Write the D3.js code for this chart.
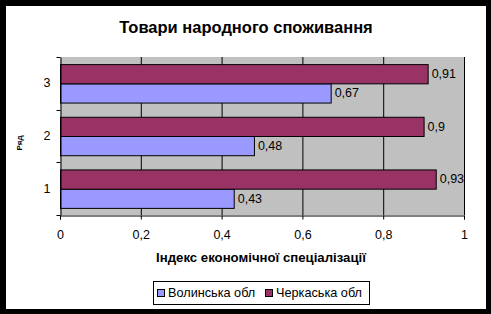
<!DOCTYPE html>
<html>
<head>
<meta charset="utf-8">
<script src="https://cdn.jsdelivr.net/npm/d3@7"></script>
<style>
  body { margin: 0; background: #000; }
  svg { display: block; font-family: "Liberation Sans", Arial, sans-serif; }
</style>
</head>
<body>
<svg id="chart"></svg>
<script>
const categories = ["1", "2", "3"];
const seriesNames = ["Волинська обл", "Черкаська обл"];
const volyn = [0.43, 0.48, 0.67];
const cherkasy = [0.93, 0.9, 0.91];
const xTicks = [0, 0.2, 0.4, 0.6, 0.8, 1];
const xTickLabels = ["0", "0,2", "0,4", "0,6", "0,8", "1"];

const colors = ["#9999FF", "#993366"];
const width = 491, height = 314;
const margin = { top: 57, right: 27, bottom: 99, left: 60 };

const svg = d3.select("#chart").attr("width", width).attr("height", height);

// outer frame
svg.append("rect").attr("x", 0).attr("y", 0).attr("width", width).attr("height", height).attr("fill", "#000");
svg.append("rect").attr("x", 6).attr("y", 6).attr("width", 480).attr("height", 303).attr("fill", "#fff");

const x = d3.scaleLinear().domain([0, 1]).range([margin.left, width - margin.right]);
const y = d3.scaleBand().domain(categories.slice().reverse())
    .range([margin.top, height - margin.bottom]);
const inner = d3.scaleBand().domain([1, 0])
    .range([0, y.bandwidth()]).paddingOuter(0.37).paddingInner(0);

// plot background
svg.append("rect")
    .attr("x", x(0)).attr("y", margin.top)
    .attr("width", x(1) - x(0)).attr("height", height - margin.bottom - margin.top)
    .attr("fill", "#C0C0C0");

// gridlines
svg.append("g").selectAll("line").data(xTicks.slice(1)).join("line")
    .attr("x1", d => x(d) + 0.5).attr("x2", d => x(d) + 0.5)
    .attr("y1", margin.top).attr("y2", height - margin.bottom)
    .attr("stroke", "#000").attr("stroke-width", 1);

const rows = categories.map((c, i) => ({ c, vals: [volyn[i], cherkasy[i]] }));

const groups = svg.append("g").selectAll("g").data(rows).join("g")
    .attr("transform", d => `translate(0,${y(d.c)})`);

groups.selectAll("rect").data(d => d.vals.map((v, s) => ({ v, s }))).join("rect")
    .attr("x", x(0) + 0.5)
    .attr("y", d => inner(d.s) + 0.5)
    .attr("width", d => x(d.v) - x(0))
    .attr("height", inner.bandwidth())
    .attr("fill", d => colors[d.s])
    .attr("stroke", "#000").attr("stroke-width", 1);

groups.selectAll("text").data(d => d.vals.map((v, s) => ({ v, s }))).join("text")
    .attr("x", d => x(d.v) + 4)
    .attr("y", d => inner(d.s) + inner.bandwidth() / 2 + 1)
    .attr("dominant-baseline", "middle")
    .attr("font-size", 12.5)
    .text(d => String(d.v).replace(".", ","));

// axes
const xAxis = svg.append("g")
    .attr("transform", `translate(0,${height - margin.bottom + 0.5})`)
    .call(d3.axisBottom(x).tickValues(xTicks).tickFormat((d, i) => xTickLabels[i]).tickSizeOuter(0).tickSize(4).tickPadding(11));
xAxis.select(".domain").attr("stroke", "#000");
xAxis.selectAll("text").attr("font-size", 12.5).attr("font-family", "Liberation Sans, Arial, sans-serif").attr("fill", "#000");

const yAxis = svg.append("g")
    .attr("transform", `translate(${margin.left + 0.5},0)`)
    .call(d3.axisLeft(y).tickSize(0).tickPadding(10));
yAxis.selectAll("text").attr("font-size", 12.5).attr("font-family", "Liberation Sans, Arial, sans-serif").attr("fill", "#000");
yAxis.select(".domain").attr("stroke", "#000");
// ticks between categories
const tickYs = categories.map(c => y(c)).concat([y.range()[1]]);
yAxis.selectAll("line.sep").data(tickYs).join("line").attr("class", "sep")
    .attr("x1", -4).attr("x2", 0)
    .attr("y1", d => Math.round(d) + 0.5).attr("y2", d => Math.round(d) + 0.5)
    .attr("stroke", "#000");

// title
svg.append("text")
    .attr("x", 246).attr("y", 33)
    .attr("text-anchor", "middle")
    .attr("font-size", 16.5).attr("font-weight", "bold")
    .text("Товари народного споживання");

// axis titles
svg.append("text")
    .attr("x", 261).attr("y", 262)
    .attr("text-anchor", "middle")
    .attr("font-size", 13.2).attr("font-weight", "bold")
    .text("Індекс економічної спеціалізації");

svg.append("text")
    .attr("transform", "translate(22,143) rotate(-90)")
    .attr("text-anchor", "middle")
    .attr("font-size", 8).attr("font-weight", "bold")
    .text("Ряд");

// legend
const legend = svg.append("g");
legend.append("rect")
    .attr("x", 153.5).attr("y", 281.5).attr("width", 216).attr("height", 23)
    .attr("fill", "#fff").attr("stroke", "#000");
const items = legend.selectAll("g").data(seriesNames).join("g")
    .attr("transform", (d, i) => `translate(${[157, 265][i]},293)`);
items.append("rect")
    .attr("x", 0.5).attr("y", -3.5).attr("width", 7).attr("height", 7)
    .attr("fill", (d, i) => colors[i]).attr("stroke", "#000");
items.append("text")
    .attr("x", 11).attr("y", 0.5)
    .attr("dominant-baseline", "middle")
    .attr("font-size", 12.7)
    .text(d => d);
</script>
</body>
</html>
